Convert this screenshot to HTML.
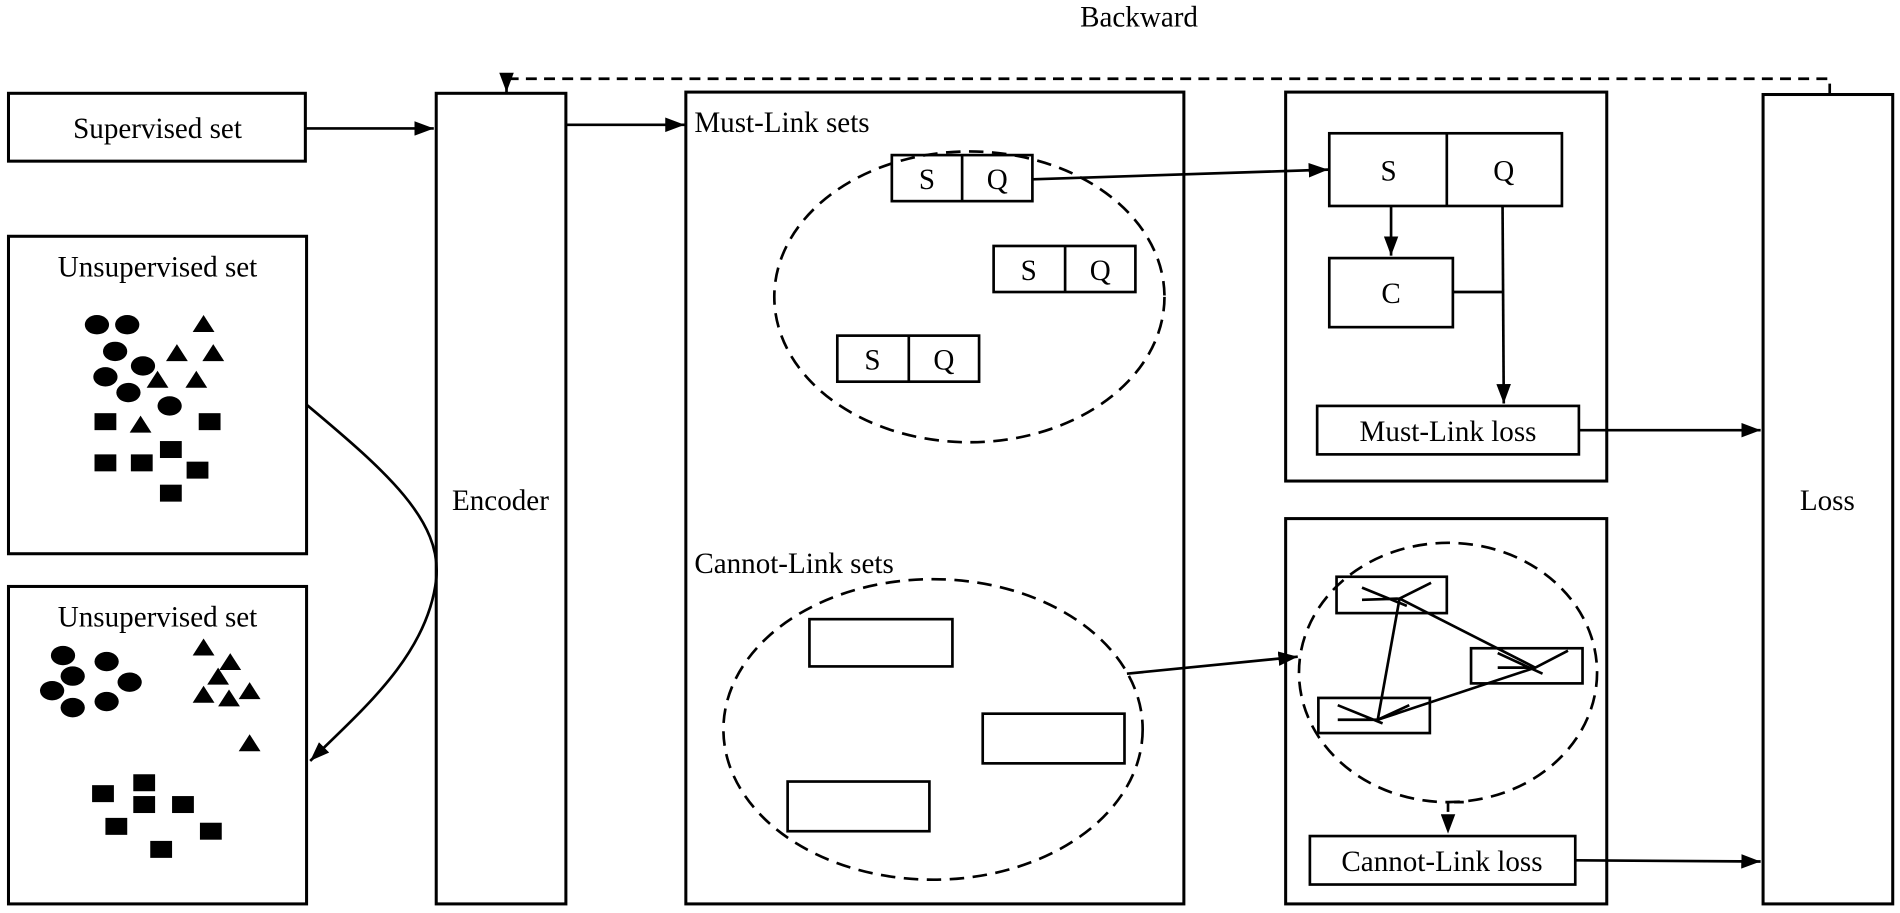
<!DOCTYPE html>
<html><head><meta charset="utf-8"><style>
html,body{margin:0;padding:0;background:#fff;}
svg{display:block;}
text{font-family:"Liberation Serif",serif;fill:#000;}
</style></head><body>
<svg width="1900" height="913" viewBox="0 0 1568 753.5" preserveAspectRatio="none" xmlns="http://www.w3.org/2000/svg">
<defs>
<marker id="ahb" markerWidth="16" markerHeight="12" refX="16" refY="6" orient="auto" markerUnits="userSpaceOnUse" viewBox="0 0 16 12">
<path d="M0,0 L16,6 L0,12 z" fill="#000"/></marker>
</defs>
<g fill="none" stroke="#000" stroke-width="2.5">
<rect x="7" y="77" width="245" height="56"/>
<rect x="7" y="195" width="246" height="262"/>
<rect x="7" y="484" width="246" height="262"/>
<rect x="360" y="77" width="107" height="669"/>
<rect x="566" y="76" width="411" height="670"/>
<rect x="1061" y="76" width="265" height="321"/>
<rect x="1061" y="428" width="265" height="318"/>
<rect x="1455" y="78" width="107" height="668"/>
</g>
<g stroke="#000" stroke-width="2.2" fill="none">
<line x1="252" y1="106" x2="358" y2="106" marker-end="url(#ahb)"/>
<line x1="467" y1="103" x2="565" y2="103" marker-end="url(#ahb)"/>
<path d="M1510,78 L1510,65 L418,65 L418,76" stroke-dasharray="9,6" marker-end="url(#ahb)"/>
<path d="M253,334 C320,390 365,430 360,478 C353,540 300,585 256,628" marker-end="url(#ahb)"/>
</g>
<g font-size="24" text-anchor="middle">
<text x="940" y="22">Backward</text>
<text x="130" y="114">Supervised set</text>
<text x="130" y="228">Unsupervised set</text>
<text x="130" y="517">Unsupervised set</text>
<text x="413" y="421">Encoder</text>
<text x="1508" y="421">Loss</text>
</g>
<g font-size="24">
<text x="573" y="109">Must-Link sets</text>
<text x="573" y="473">Cannot-Link sets</text>
</g>
<g fill="#000">
<ellipse cx="80" cy="268" rx="10" ry="8"/><ellipse cx="105" cy="268" rx="10" ry="8"/>
<ellipse cx="95" cy="290" rx="10" ry="8"/><ellipse cx="118" cy="302" rx="10" ry="8"/>
<ellipse cx="87" cy="311" rx="10" ry="8"/><ellipse cx="106" cy="324" rx="10" ry="8"/>
<ellipse cx="140" cy="335" rx="10" ry="8"/>
<polygon points="159,274 168,260 177,274"/>
<polygon points="137,298 146,284 155,298"/>
<polygon points="167,298 176,284 185,298"/>
<polygon points="121,320 130,306 139,320"/>
<polygon points="153,320 162,306 171,320"/>
<polygon points="107,357 116,343 125,357"/>
<rect x="78" y="341" width="18" height="14"/><rect x="164" y="341" width="18" height="14"/>
<rect x="78" y="375" width="18" height="14"/><rect x="108" y="375" width="18" height="14"/>
<rect x="132" y="364" width="18" height="14"/><rect x="154" y="381" width="18" height="14"/>
<rect x="132" y="400" width="18" height="14"/>
<ellipse cx="52" cy="541" rx="10" ry="8"/><ellipse cx="88" cy="546" rx="10" ry="8"/>
<ellipse cx="60" cy="558" rx="10" ry="8"/><ellipse cx="43" cy="570" rx="10" ry="8"/>
<ellipse cx="60" cy="584" rx="10" ry="8"/><ellipse cx="88" cy="579" rx="10" ry="8"/>
<ellipse cx="107" cy="563" rx="10" ry="8"/>
<polygon points="159,541 168,527 177,541"/>
<polygon points="181,553 190,539 199,553"/>
<polygon points="171,565 180,551 189,565"/>
<polygon points="159,580 168,566 177,580"/>
<polygon points="180,583 189,569 198,583"/>
<polygon points="197,577 206,563 215,577"/>
<polygon points="197,620 206,606 215,620"/>
<rect x="76" y="648" width="18" height="14"/><rect x="110" y="639" width="18" height="14"/>
<rect x="110" y="657" width="18" height="14"/><rect x="142" y="657" width="18" height="14"/>
<rect x="87" y="675" width="18" height="14"/><rect x="124" y="694" width="18" height="14"/>
<rect x="165" y="679" width="18" height="14"/>
</g>
<g fill="none" stroke="#000" stroke-width="2.2">
<ellipse cx="800" cy="245" rx="161" ry="120" stroke-dasharray="12,7"/>
<ellipse cx="770" cy="602" rx="173" ry="124" stroke-dasharray="12,7"/>
<ellipse cx="1195" cy="555" rx="123" ry="107" stroke-dasharray="12,7"/>
<rect x="736" y="128" width="116" height="38"/><line x1="794" y1="128" x2="794" y2="166"/>
<rect x="820" y="203" width="117" height="38"/><line x1="879" y1="203" x2="879" y2="241"/>
<rect x="691" y="277" width="117" height="38"/><line x1="750" y1="277" x2="750" y2="315"/>
<rect x="668" y="511" width="118" height="39"/>
<rect x="811" y="589" width="117" height="41"/>
<rect x="650" y="645" width="117" height="41"/>
<line x1="852" y1="148" x2="1096" y2="140" marker-end="url(#ahb)"/>
<rect x="1097" y="110" width="192" height="60"/><line x1="1194" y1="110" x2="1194" y2="170"/>
<rect x="1097" y="213" width="102" height="57"/>
<line x1="1148" y1="170" x2="1148" y2="211" marker-end="url(#ahb)"/>
<line x1="1240" y1="170" x2="1241" y2="333" marker-end="url(#ahb)"/>
<line x1="1199" y1="241" x2="1240" y2="241"/>
<rect x="1087" y="335" width="216" height="40"/>
<line x1="1303" y1="355" x2="1453" y2="355" marker-end="url(#ahb)"/>
<line x1="930" y1="556" x2="1071" y2="542" marker-end="url(#ahb)"/>
<rect x="1103" y="476" width="91" height="30"/>
<rect x="1214" y="535" width="92" height="29"/>
<rect x="1088" y="576" width="92" height="29"/>
<line x1="1155" y1="494" x2="1137" y2="594"/>
<line x1="1155" y1="494" x2="1267" y2="551"/>
<line x1="1267" y1="551" x2="1137" y2="594"/>
<path d="M1124,485 L1161,500 M1124,495 L1155,494 L1181,481"/>
<path d="M1236,539 L1273,556 M1236,551 L1267,551 L1294,537"/>
<path d="M1104,582 L1141,597 M1104,594 L1137,594 L1163,582"/>
<path d="M1208,662 L1195,662 L1195,688" stroke-dasharray="8,5" marker-end="url(#ahb)"/>
<rect x="1081" y="690" width="219" height="40"/>
<line x1="1300" y1="710" x2="1453" y2="711" marker-end="url(#ahb)"/>
</g>
<g font-size="24" text-anchor="middle">
<text x="765" y="156">S</text><text x="823" y="156">Q</text>
<text x="849" y="231">S</text><text x="908" y="231">Q</text>
<text x="720" y="305">S</text><text x="779" y="305">Q</text>
<text x="1146" y="149">S</text><text x="1241" y="149">Q</text>
<text x="1148" y="250">C</text>
<text x="1195" y="364">Must-Link loss</text>
<text x="1190" y="719">Cannot-Link loss</text>
</g>
</svg>
</body></html>
